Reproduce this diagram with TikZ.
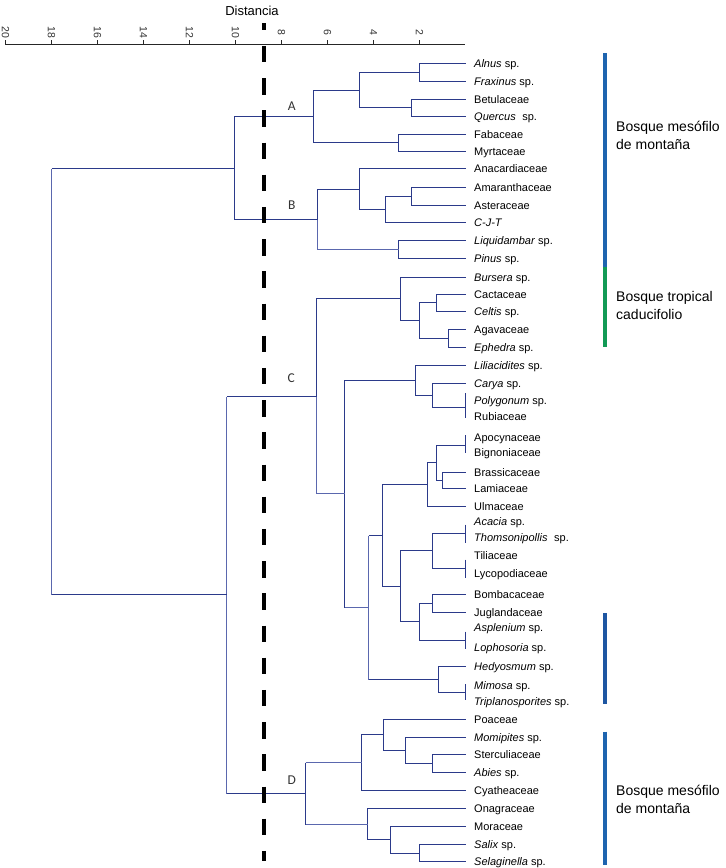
\documentclass[tikz,border=0pt]{standalone}
\usepackage{fontspec}
\setmainfont{Liberation Sans}
\newfontfamily\carl{Carlito}
\definecolor{dkcol}{HTML}{2B3A8A}
\definecolor{ltcol}{HTML}{5A67AE}
\definecolor{bblue}{HTML}{1E64AF}
\definecolor{bgreen}{HTML}{129A55}
\definecolor{bdblue}{HTML}{1E56A2}
\begin{document}
\begin{tikzpicture}[x=1pt,y=-1pt,
  darkbr/.style={draw=dkcol, line width=1.6pt},
  lightbr/.style={draw=ltcol, line width=1.2pt},
  leaf/.style={anchor=west, inner sep=0pt, font=\fontsize{11}{13}\selectfont, text height=8pt, text depth=0pt},
  ticklab/.style={rotate=-90, inner sep=0pt, font=\fontsize{10.5}{12}\selectfont, text=black!80},
  grp/.style={inner sep=0pt, font=\carl\fontsize{13.5}{15}\selectfont, text=black!80},
  habitat/.style={anchor=west, inner sep=0pt, align=left, font=\fontsize{14}{18}\selectfont},
  habbar/.style={line width=4.6pt}
]
\useasboundingbox (0,0) rectangle (726,868);

% ---------- axis ----------
\node[inner sep=0pt, font=\fontsize{13}{15}\selectfont] (title) at (252,11) {Distancia};
\coordinate (ax0) at (5,44.5);
\coordinate (ax1) at (465,44.5);
\draw[black!85, line width=0.9pt] (ax0) -- (ax1);
\foreach \d in {20,18,...,2}{
  \coordinate (tk\d) at ({465.5-23*\d},44.5);
  \draw[black!85, line width=0.9pt] (tk\d) -- ++(0,-4.5);
  \node[ticklab] (tl\d) at ({465.5-23*\d},32) {\d};
}

% ---------- leaf labels ----------
\node[leaf] (t1)  at (474,63)    {\textit{Alnus} sp.};
\node[leaf] (t2)  at (474,81.5)  {\textit{Fraxinus} sp.};
\node[leaf] (t3)  at (474,99)    {Betulaceae};
\node[leaf] (t4)  at (474,116)   {\textit{Quercus}\hspace{0.6em}sp.};
\node[leaf] (t5)  at (474,134)   {Fabaceae};
\node[leaf] (t6)  at (474,151.5) {Myrtaceae};
\node[leaf] (t7)  at (474,168.5) {Anacardiaceae};
\node[leaf] (t8)  at (474,187)   {Amaranthaceae};
\node[leaf] (t9)  at (474,205)   {Asteraceae};
\node[leaf] (t10) at (474,222.5) {\textit{C-J-T}};
\node[leaf] (t11) at (474,240.5) {\textit{Liquidambar} sp.};
\node[leaf] (t12) at (474,258.5) {\textit{Pinus} sp.};
\node[leaf] (t13) at (474,277)   {\textit{Bursera} sp.};
\node[leaf] (t14) at (474,294)   {Cactaceae};
\node[leaf] (t15) at (474,311.5) {\textit{Celtis} sp.};
\node[leaf] (t16) at (474,329.5) {Agavaceae};
\node[leaf] (t17) at (474,347)   {\textit{Ephedra} sp.};
\node[leaf] (t18) at (474,365)   {\textit{Liliacidites} sp.};
\node[leaf] (t19) at (474,383)   {\textit{Carya} sp.};
\node[leaf] (t20) at (474,400.5) {\textit{Polygonum} sp.};
\node[leaf] (t21) at (474,416.5) {Rubiaceae};
\node[leaf] (t22) at (474,437.5) {Apocynaceae};
\node[leaf] (t23) at (474,452.5) {Bignoniaceae};
\node[leaf] (t24) at (474,472.5) {Brassicaceae};
\node[leaf] (t25) at (474,488.5) {Lamiaceae};
\node[leaf] (t26) at (474,506.5) {Ulmaceae};
\node[leaf] (t27) at (474,521.5) {\textit{Acacia} sp.};
\node[leaf] (t28) at (474,537.5) {\textit{Thomsonipollis}\hspace{0.6em}sp.};
\node[leaf] (t29) at (474,555.5) {Tiliaceae};
\node[leaf] (t30) at (474,573.5) {Lycopodiaceae};
\node[leaf] (t31) at (474,594)   {Bombacaceae};
\node[leaf] (t32) at (474,612)   {Juglandaceae};
\node[leaf] (t33) at (474,627)   {\textit{Asplenium} sp.};
\node[leaf] (t34) at (474,647.5) {\textit{Lophosoria} sp.};
\node[leaf] (t35) at (474,666)   {\textit{Hedyosmum} sp.};
\node[leaf] (t36) at (474,685)   {\textit{Mimosa} sp.};
\node[leaf] (t37) at (474,701)   {\textit{Triplanosporites} sp.};
\node[leaf] (t38) at (474,719)   {Poaceae};
\node[leaf] (t39) at (474,737)   {\textit{Momipites} sp.};
\node[leaf] (t40) at (474,754.5) {Sterculiaceae};
\node[leaf] (t41) at (474,772)   {\textit{Abies} sp.};
\node[leaf] (t42) at (474,790)   {Cyatheaceae};
\node[leaf] (t43) at (474,808.5) {Onagraceae};
\node[leaf] (t44) at (474,826)   {Moraceae};
\node[leaf] (t45) at (474,844)   {\textit{Salix} sp.};
\node[leaf] (t46) at (474,861.5) {\textit{Selaginella} sp.};

% ---------- leaf line ends ----------
\foreach \i/\y in {1/63.5,2/81.5,3/99.5,4/116.5,5/134.5,6/151.5,7/168.5,8/187.5,9/205.5,10/222.5,
  11/240.5,12/258.5,13/277.5,14/294.5,15/311.5,16/329.5,17/347.5,18/365.5,19/383.5,
  24/472.5,25/488.5,26/506.5,31/594.5,32/612.5,35/666.5,
  38/719.5,39/737.5,40/754.5,41/772.5,42/790.5,43/808.5,44/826.5,45/844.5,46/861.5}{
  \coordinate (L\i) at (465.5,\y);
}
% zero-distance pairs (bars at the leaf ends)
\coordinate (zPa) at (465.5,393);   \coordinate (zPb) at (465.5,418);   \coordinate (zP) at (465.5,407.5);
\coordinate (zAa) at (465.5,435);   \coordinate (zAb) at (465.5,453);   \coordinate (zA) at (465.5,445.5);
\coordinate (zTa) at (465.5,524.5); \coordinate (zTb) at (465.5,542.5); \coordinate (zT) at (465.5,533.5);
\coordinate (zLa) at (465.5,559.5); \coordinate (zLb) at (465.5,577.5); \coordinate (zL) at (465.5,568.5);
\coordinate (zSa) at (465.5,631.5); \coordinate (zSb) at (465.5,648.5); \coordinate (zS) at (465.5,640.5);
\coordinate (zMa) at (465.5,684);   \coordinate (zMb) at (465.5,700);   \coordinate (zM) at (465.5,692.5);
\foreach \z in {P,A,T,L,S,M}{ \draw[darkbr] (z\z a) -- (z\z b); }

% ---------- cluster A ----------
\coordinate (j1) at (419.5,72.5);  \draw[darkbr] (L1) -| (j1) |- (L2);
\coordinate (j2) at (411.5,107.5); \draw[darkbr] (L3) -| (j2) |- (L4);
\coordinate (j3) at (359.5,90.5);  \draw[darkbr] (j1) -| (j3) |- (j2);
\coordinate (j4) at (398.5,142.5); \draw[darkbr] (L5) -| (j4) |- (L6);
\coordinate (jA) at (313.5,116.5); \draw[darkbr] (j3) -| (jA) |- (j4);

% ---------- cluster B ----------
\coordinate (j5) at (411.5,196.5); \draw[darkbr] (L8) -| (j5) |- (L9);
\coordinate (j6) at (385.5,209.5); \draw[darkbr] (j5) -| (j6) |- (L10);
\coordinate (j7) at (359.5,189.5); \draw[darkbr] (L7) -| (j7) |- (j6);
\coordinate (j8) at (398.5,249.5); \draw[darkbr] (L11) -| (j8) |- (L12);
\coordinate (jB) at (317.5,219.5); \draw[darkbr] (j7) -| (jB); \draw[lightbr] (jB) |- (j8);
\coordinate (jAB) at (234.5,168.5); \draw[darkbr] (jA) -| (jAB) |- (jB);

% ---------- cluster C ----------
\coordinate (j9)  at (436.5,302.5); \draw[darkbr] (L14) -| (j9) |- (L15);
\coordinate (j10) at (448.5,338.5); \draw[darkbr] (L16) -| (j10) |- (L17);
\coordinate (j11) at (419.5,320.5); \draw[darkbr] (j9) -| (j11) |- (j10);
\coordinate (j12) at (400.5,298.5); \draw[darkbr] (L13) -| (j12) |- (j11);
\coordinate (j13) at (432.5,395.5); \draw[darkbr] (L19) -| (j13) |- (zP);
\coordinate (j14) at (415.5,380.5); \draw[darkbr] (L18) -| (j14) |- (j13);
\coordinate (j15) at (442.5,480.5); \draw[darkbr] (L24) -| (j15) |- (L25);
\coordinate (j16) at (436.5,462.5); \draw[darkbr] (zA) -| (j16) |- (j15);
\coordinate (j17) at (427.5,484.5); \draw[darkbr] (j16) -| (j17) |- (L26);
\coordinate (j18) at (432.5,550.5); \draw[darkbr] (zT) -| (j18) |- (zL);
\coordinate (j19) at (432.5,603.5); \draw[darkbr] (L31) -| (j19) |- (L32);
\coordinate (j20) at (419.5,621.5); \draw[darkbr] (j19) -| (j20) |- (zS);
\coordinate (j21) at (400.5,586.5); \draw[darkbr] (j18) -| (j21) |- (j20);
\coordinate (j22) at (382.5,535.5); \draw[darkbr] (j17) -| (j22) |- (j21);
\coordinate (j23) at (438.5,679.5); \draw[darkbr] (L35) -| (j23) |- (zM);
\coordinate (j24) at (368.5,607.5);
\draw[darkbr] (j22) -- (j22 -| j24);
\draw[lightbr] (j22 -| j24) -- (j23 -| j24);
\draw[darkbr] (j23 -| j24) -- (j23);
\coordinate (j25) at (344.5,493.5);
\draw[darkbr] (j14) -| (j25) -- (j25 |- j24);
\draw[lightbr] (j25 |- j24) -- (j24);
\coordinate (jC) at (316.5,396.5);
\draw[darkbr] (j12) -| (jC); \draw[lightbr] (jC) |- (j25);

% ---------- cluster D ----------
\coordinate (j26) at (432.5,763.5); \draw[darkbr] (L40) -| (j26) |- (L41);
\coordinate (j27) at (405.5,750.5); \draw[darkbr] (L39) -| (j27) |- (j26);
\coordinate (j28) at (383.5,734.5); \draw[darkbr] (L38) -| (j28) |- (j27);
\coordinate (j29) at (361.5,762.5); \draw[darkbr] (j28) -| (j29) |- (L42);
\coordinate (j30) at (419.5,853.5); \draw[darkbr] (L45) -| (j30) |- (L46);
\coordinate (j31) at (390.5,839.5); \draw[darkbr] (L44) -| (j31) |- (j30);
\coordinate (j32) at (367.5,824.5); \draw[darkbr] (L43) -| (j32) |- (j31);
\coordinate (jD) at (305.5,793.5);
\draw[darkbr] (jD |- j29) -- (jD |- j32);
\draw[lightbr] (jD |- j29) -- (j29);
\draw[lightbr] (jD |- j32) -- (j32);

% ---------- upper joins ----------
\coordinate (jCD) at (226.5,594.5);
\draw[darkbr] (jC) -- (jC -| jCD);
\draw[lightbr] (jC -| jCD) -- (jD -| jCD);
\draw[darkbr] (jD -| jCD) -- (jD);
\coordinate (root) at (51.5,381.5);
\draw[darkbr] (jAB) -- (jAB -| root);
\draw[lightbr] (jAB -| root) -- (jCD -| root);
\draw[darkbr] (jCD -| root) -- (jCD);

% ---------- group letters ----------
\node[grp] (gA) at (291.7,106) {A};
\node[grp] (gB) at (291.7,205) {B};
\node[grp] (gC) at (291.2,378) {C};
\node[grp] (gD) at (291.7,780) {D};

% ---------- cut line ----------
\coordinate (dtop) at (264,23);
\coordinate (dbot) at (264,861);
\draw[black, line width=4pt, dash pattern=on 16.5pt off 15.7pt, dash phase=9.3pt] (dtop) -- (dbot);

% ---------- habitat bars ----------
\coordinate (b1a) at (605,53);    \coordinate (b1b) at (605,267);
\coordinate (b2a) at (605,267);   \coordinate (b2b) at (605,347);
\coordinate (b3a) at (605,613);   \coordinate (b3b) at (605,704);
\coordinate (b4a) at (605,731.5); \coordinate (b4b) at (605,865);
\draw[habbar, bblue]  (b1a) -- (b1b);
\draw[habbar, bgreen] (b2a) -- (b2b);
\draw[habbar, bdblue] (b3a) -- (b3b);
\draw[habbar, bblue]  (b4a) -- (b4b);
\node[habitat] (h1) at (616,135) {Bosque mesófilo\\de montaña};
\node[habitat] (h2) at (616,305) {Bosque tropical\\caducifolio};
\node[habitat] (h3) at (616,799) {Bosque mesófilo\\de montaña};
\end{tikzpicture}
\end{document}
